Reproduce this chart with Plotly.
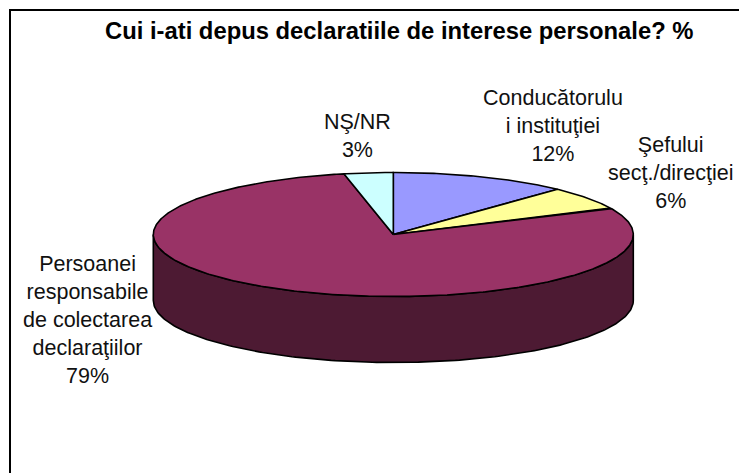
import numpy as np
import plotly.graph_objects as go

categories = ["Conducătorulu<br>i instituţiei", "Şefului<br>secţ./direcţiei",
              "Persoanei<br>responsabile<br>de colectarea<br>declaraţiilor", "NŞ/NR"]
values = [12, 6, 78.7, 3.3]
colors = ["#9999FF", "#FFFF99", "#993366", "#CCFFFF"]
side_color = "#4D1A33"
title = "Cui i-ati depus declaratiile de interese personale? %"
label_pos = [(553, 125.5), (670, 172.5), (87, 319.5), (357, 135.5)]

W, H = 747, 473
OFF = 8  # default page margin of the written HTML
CX, CY, RX, RY, DEPTH = 393.3, 234.5, 240, 62, 66


def pt(deg, dy=0.0):
    a = np.radians(deg)
    return CX + RX * np.sin(a), CY - RY * np.cos(a) + dy


fig = go.Figure()
th = np.linspace(90, 270, 181)
xt, yt = pt(th)
xb, yb = pt(th[::-1], DEPTH)
fig.add_trace(go.Scatter(x=np.r_[xt, xb, xt[0]], y=np.r_[yt, yb, yt[0]], mode="lines",
                         fill="toself", fillcolor=side_color,
                         line=dict(color="black", width=1.6), hoverinfo="skip"))
edges = np.cumsum([0] + values) / sum(values) * 360
for i, v in enumerate(values):
    t = np.linspace(edges[i], edges[i + 1], max(int(v * 6), 8))
    x, y = pt(t)
    fig.add_trace(go.Scatter(x=np.r_[CX, x, CX], y=np.r_[CY, y, CY], mode="lines",
                             fill="toself", fillcolor=colors[i],
                             line=dict(color="black", width=1.6), hoverinfo="skip"))

ann = [dict(x=px, y=py, text=f"{c}<br>{round(v)}%", showarrow=False, align="center",
            xanchor="center", yanchor="middle", xref="x", yref="y",
            font=dict(family="Liberation Sans", size=21.5, color="#111111"))
       for c, v, (px, py) in zip(categories, values, label_pos)]
ann.append(dict(x=399, y=30, text=f"<b>{title}</b>", showarrow=False, xref="x", yref="y",
                xanchor="center", yanchor="middle",
                font=dict(family="Liberation Sans", size=23.8, color="black")))

fig.update_layout(
    width=W - OFF, height=H - OFF, margin=dict(l=0, r=0, t=0, b=0), showlegend=False,
    paper_bgcolor="white", plot_bgcolor="white", annotations=ann,
    xaxis=dict(range=[OFF, W], visible=False, fixedrange=True),
    yaxis=dict(range=[H, OFF], visible=False, fixedrange=True),
    shapes=[dict(type="path", xref="x", yref="y", path=f"M 10 {H} L 10 10 L {W} 10",
                 line=dict(color="black", width=2), layer="below")],
)
fig.write_html("out.html", config=dict(displayModeBar=False))
